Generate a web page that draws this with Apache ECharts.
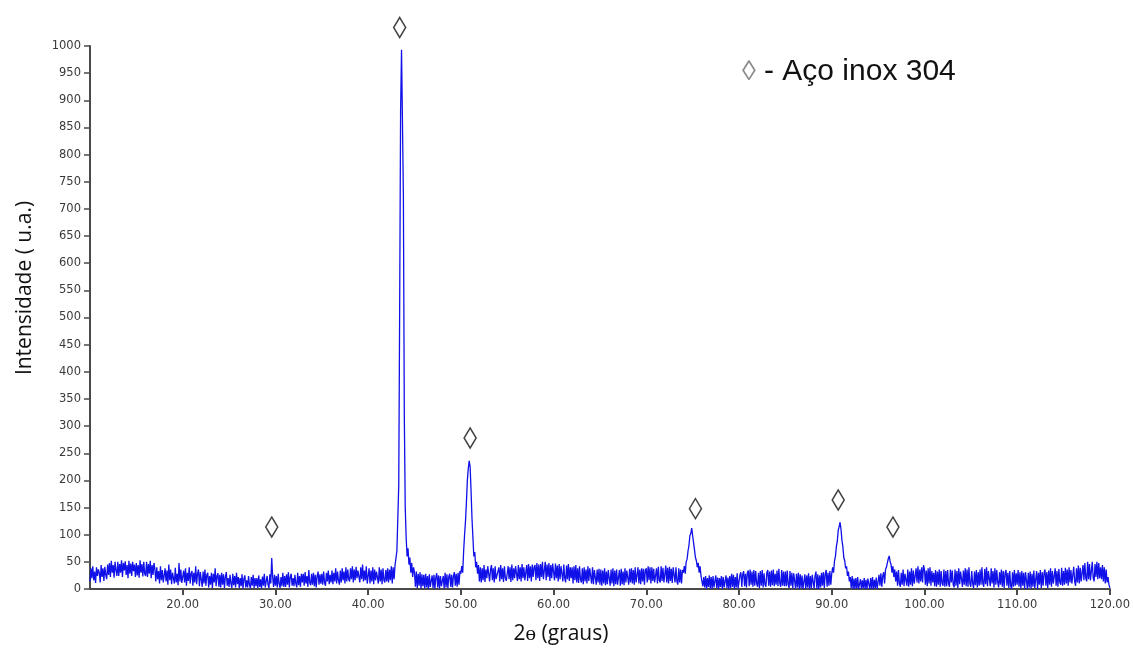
<!DOCTYPE html>
<html>
<head>
<meta charset="utf-8">
<script src="https://cdn.jsdelivr.net/npm/echarts@6/dist/echarts.min.js"></script>
<style>
html,body{margin:0;padding:0;background:#fff;}
#chart{width:1133px;height:651px;}
</style>
</head>
<body>
<div id="chart"></div>
<script>
// 2θ sampling grid (degrees)
const thetaStart = 10;
const thetaStep = 0.1;

// Intensity (u.a.), one row per degree, 10 samples per degree, from 10.0 to 120.0
const intensity = [
  14, 38, 20, 42, 16, 32, 11, 40, 24, 36,   // 10
  30, 12, 44, 22, 38, 15, 41, 26, 18, 45,   // 11
  26, 48, 22, 52, 30, 44, 21, 50, 35, 24,   // 12
  50, 24, 46, 30, 53, 22, 48, 34, 51, 26,   // 13
  44, 20, 52, 28, 47, 24, 50, 33, 45, 22,   // 14
  48, 25, 44, 21, 53, 30, 46, 23, 50, 28,   // 15
  24, 50, 22, 46, 28, 52, 20, 44, 26, 48,   // 16
  36, 14, 40, 18, 33, 10, 42, 16, 35, 12,   // 17
  10, 38, 14, 34, 8, 45, 16, 36, 9, 30,     // 18
  32, 10, 39, 12, 28, 7, 48, 14, 36, 11,    // 19
  8, 34, 12, 38, 6, 30, 15, 40, 10, 28,     // 20
  33, 6, 30, 12, 42, 9, 28, 36, 5, 31,      // 21
  28, 4, 32, 10, 36, 6, 26, 30, 3, 24,      // 22
  8, 30, 2, 28, 12, 38, 5, 24, 29, 4,       // 23
  26, 3, 30, 8, 27, 2, 22, 31, 6, 20,       // 24
  4, 26, 10, 2, 28, 7, 24, 3, 30, 9,        // 25
  22, 2, 20, 5, 27, 1, 18, 25, 3, 16,       // 26
  3, 24, 8, 1, 22, 6, 26, 2, 20, 5,         // 27
  20, 2, 25, 4, 18, 1, 23, 6, 28, 3,        // 28
  5, 24, 8, 2, 27, 10, 57, 22, 4, 26,       // 29
  6, 24, 3, 28, 10, 2, 22, 5, 30, 4,        // 30
  24, 4, 27, 8, 31, 3, 22, 28, 6, 20,       // 31
  5, 26, 10, 3, 30, 7, 24, 4, 28, 12,       // 32
  28, 6, 31, 10, 24, 4, 35, 12, 7, 28,      // 33
  8, 30, 5, 26, 3, 24, 32, 8, 27, 10,       // 34
  28, 8, 32, 12, 6, 30, 14, 34, 9, 26,      // 35
  12, 34, 9, 30, 14, 38, 10, 32, 16, 8,     // 36
  34, 12, 38, 16, 32, 10, 40, 14, 36, 18,   // 37
  14, 38, 18, 42, 12, 36, 16, 41, 20, 34,   // 38
  36, 12, 40, 18, 45, 14, 34, 16, 42, 10,   // 39
  12, 38, 10, 34, 14, 40, 9, 36, 16, 32,    // 40
  34, 10, 40, 14, 36, 9, 38, 16, 12, 35,    // 41
  14, 38, 12, 36, 16, 42, 10, 40, 18, 44,   // 42
  45, 70, 130, 190, 520, 880, 993, 860, 725, 320, // 43
  150, 95, 60, 75, 45, 58, 30, 48, 22, 40,  // 44
  30, 4, 32, 2, 28, 6, 31, 1, 27, 5,        // 45
  26, 1, 28, 3, 24, 0, 27, 4, 2, 25,        // 46
  2, 26, 0, 22, 29, 3, 25, 1, 24, 5,        // 47
  4, 24, 1, 30, 3, 27, 2, 23, 28, 4,        // 48
  26, 3, 24, 31, 6, 28, 4, 30, 8, 33,       // 49
  28, 42, 30, 70, 100, 125, 160, 200, 222, 236, // 50
  225, 180, 130, 95, 60, 68, 40, 50, 28, 44, // 51
  14, 40, 12, 38, 16, 44, 13, 36, 20, 42,   // 52
  40, 14, 36, 44, 16, 38, 12, 42, 18, 15,   // 53
  16, 40, 14, 44, 18, 38, 13, 42, 20, 15,   // 54
  14, 42, 18, 40, 13, 45, 16, 38, 20, 42,   // 55
  42, 15, 44, 18, 40, 14, 46, 20, 40, 16,   // 56
  18, 44, 15, 46, 20, 42, 14, 45, 22, 40,   // 57
  44, 16, 48, 20, 45, 15, 46, 22, 50, 18,   // 58
  20, 50, 16, 45, 22, 48, 15, 44, 20, 47,   // 59
  44, 16, 47, 20, 43, 14, 46, 18, 42, 45,   // 60
  14, 45, 20, 12, 43, 18, 46, 15, 40, 20,   // 61
  40, 10, 42, 16, 44, 12, 38, 11, 42, 18,   // 62
  12, 38, 9, 40, 14, 36, 10, 42, 15, 38,    // 63
  38, 10, 40, 9, 35, 38, 8, 36, 12, 37,     // 64
  8, 36, 6, 34, 10, 38, 7, 32, 9, 35,       // 65
  33, 6, 36, 10, 38, 5, 34, 9, 36, 8,       // 66
  8, 35, 6, 37, 9, 32, 7, 38, 12, 34,       // 67
  34, 8, 37, 12, 38, 10, 35, 8, 40, 12,     // 68
  12, 40, 10, 36, 9, 38, 14, 37, 8, 34,     // 69
  38, 12, 42, 16, 40, 10, 40, 15, 37, 12,   // 70
  14, 38, 10, 41, 16, 12, 42, 15, 39, 12,   // 71
  14, 43, 12, 39, 10, 41, 15, 37, 11, 40,   // 72
  37, 12, 40, 14, 8, 38, 12, 36, 10, 35,    // 73
  30, 42, 28, 50, 55, 70, 80, 98, 102, 112, // 74
  98, 85, 72, 58, 52, 40, 48, 30, 42, 24,   // 75
  26, 5, 22, 3, 24, 0, 20, 4, 25, 1,        // 76
  22, 0, 24, 3, 1, 25, 2, 21, 0, 20,        // 77
  4, 24, 0, 22, 3, 0, 25, 2, 21, 0,         // 78
  24, 2, 28, 4, 26, 0, 22, 3, 29, 1,        // 79
  2, 26, 31, 4, 27, 33, 5, 28, 3, 30,       // 80
  34, 5, 36, 8, 32, 4, 35, 6, 33, 10,       // 81
  4, 30, 2, 33, 6, 35, 3, 29, 8, 4,         // 82
  30, 35, 6, 32, 4, 34, 7, 36, 5, 28,       // 83
  8, 34, 5, 37, 10, 4, 35, 6, 32, 5,        // 84
  32, 5, 34, 8, 2, 33, 6, 30, 1, 29,        // 85
  26, 1, 28, 3, 30, 0, 27, 2, 25, 0,        // 86
  2, 27, 0, 25, 3, 29, 0, 24, 1, 26,        // 87
  28, 1, 24, 32, 0, 27, 0, 25, 3, 30,       // 88
  6, 31, 2, 28, 35, 4, 30, 6, 33, 8,        // 89
  28, 40, 30, 52, 60, 78, 88, 108, 115, 123, // 90
  110, 90, 78, 58, 52, 38, 42, 24, 32, 14,  // 91
  22, 2, 24, 0, 19, 0, 20, 1, 22, 0,        // 92
  0, 18, 0, 16, 2, 20, 0, 17, 0, 19,        // 93
  18, 0, 20, 1, 22, 0, 17, 2, 21, 0,        // 94
  3, 26, 6, 29, 4, 24, 31, 10, 36, 40,      // 95
  48, 56, 61, 50, 45, 30, 42, 22, 36, 14,   // 96
  32, 6, 35, 10, 4, 30, 8, 36, 5, 28,       // 97
  30, 6, 36, 4, 32, 8, 38, 5, 34, 10,       // 98
  8, 38, 12, 42, 10, 36, 14, 40, 12, 44,    // 99
  36, 8, 34, 5, 38, 10, 40, 6, 33, 12,      // 100
  30, 5, 35, 4, 32, 8, 36, 4, 33, 10,       // 101
  6, 36, 4, 33, 5, 35, 10, 4, 36, 12,       // 102
  34, 8, 3, 36, 6, 33, 2, 38, 9, 32,        // 103
  32, 4, 34, 8, 38, 5, 36, 4, 40, 10,       // 104
  4, 33, 10, 2, 32, 7, 35, 3, 31, 6,        // 105
  36, 8, 40, 10, 4, 37, 9, 40, 5, 33,       // 106
  34, 5, 38, 10, 33, 3, 38, 8, 35, 12,      // 107
  3, 31, 8, 36, 4, 33, 2, 30, 35, 6,        // 108
  30, 2, 33, 6, 0, 31, 4, 35, 6, 29,        // 109
  8, 35, 4, 31, 1, 33, 6, 30, 0, 31,        // 110
  28, 0, 30, 3, 32, 1, 28, 4, 34, 2,        // 111
  4, 33, 0, 30, 8, 35, 2, 31, 6, 29,        // 112
  36, 6, 31, 2, 34, 8, 38, 4, 33, 10,       // 113
  8, 38, 6, 33, 4, 37, 12, 8, 39, 6,        // 114
  33, 8, 39, 10, 36, 6, 40, 12, 35, 10,     // 115
  10, 41, 14, 6, 38, 12, 43, 10, 39, 14,    // 116
  14, 44, 16, 48, 20, 14, 50, 18, 46, 16,   // 117
  16, 50, 20, 14, 46, 22, 50, 18, 48, 20,   // 118
  40, 18, 44, 14, 40, 10, 36, 12, 22, 8,    // 119
  2                                         // 120
];

// Peak markers (◊ = Aço inox 304)
const markerTheta = [29.6, 43.4, 51.0, 75.3, 90.7, 96.6];
const markerY     = [114, 1034, 278, 148, 164, 114];

// Axis tick settings
const xMin = 10, xMax = 120, xInterval = 10;
const yMin = 0, yMax = 1000, yInterval = 50;

const xTitle = '2ɵ (graus)';
const yTitle = 'Intensidade ( u.a.)';
const legendText = '- Aço inox 304';

const lineData = intensity.map((v, i) => [+(thetaStart + i * thetaStep).toFixed(1), v]);
const markerData = markerTheta.map((t, i) => [t, markerY[i]]);

const chart = echarts.init(document.getElementById('chart'), null, {renderer: 'canvas'});
chart.setOption({
  backgroundColor: '#ffffff',
  animation: false,
  grid: {left: 90, right: 23, top: 46, bottom: 62, containLabel: false},
  xAxis: {
    type: 'value', min: xMin, max: xMax, interval: xInterval,
    axisLine: {show: true, onZero: false, lineStyle: {color: '#4a4a4a', width: 2}},
    axisTick: {show: true, length: 6, lineStyle: {color: '#4a4a4a', width: 2}},
    axisLabel: {
      showMinLabel: false, margin: 10,
      color: '#3a3a3a', fontFamily: 'DejaVu Sans', fontSize: 11.5,
      formatter: v => v.toFixed(2)
    },
    splitLine: {show: false}
  },
  yAxis: {
    type: 'value', min: yMin, max: yMax, interval: yInterval,
    axisLine: {show: true, lineStyle: {color: '#4a4a4a', width: 2}},
    axisTick: {show: true, length: 6, lineStyle: {color: '#4a4a4a', width: 1.5}},
    axisLabel: {margin: 9, color: '#3a3a3a', fontFamily: 'DejaVu Sans', fontSize: 11.5,
      formatter: v => String(v)},
    splitLine: {show: false}
  },
  graphic: [
    {type: 'text', left: 742, top: 58, style: {text: '◊', font: '28px "Liberation Sans"', fill: '#8a8a8a'}},
    {type: 'text', left: 764, top: 57, style: {text: legendText, font: '30px "Liberation Sans"', fill: '#111'}},
    {type: 'text', x: 561, y: 634, style: {text: xTitle, font: '21px "Open Sans"', fill: '#111', textAlign: 'center', textVerticalAlign: 'middle'}},
    {type: 'text', x: 25, y: 288, rotation: Math.PI / 2, style: {text: yTitle, font: '21px "Open Sans"', fill: '#111', textAlign: 'center', textVerticalAlign: 'middle'}}
  ],
  series: [
    {
      type: 'line', data: lineData, showSymbol: false, symbol: 'none', sampling: null,
      lineStyle: {color: '#1010e8', width: 1.3}, z: 2
    },
    {
      type: 'scatter', data: markerData, clip: false,
      symbol: 'diamond', symbolSize: [12, 20],
      itemStyle: {color: 'rgba(255,255,255,0)', borderColor: '#111', borderWidth: 1.6},
      z: 3
    }
  ]
});
</script>
</body>
</html>
